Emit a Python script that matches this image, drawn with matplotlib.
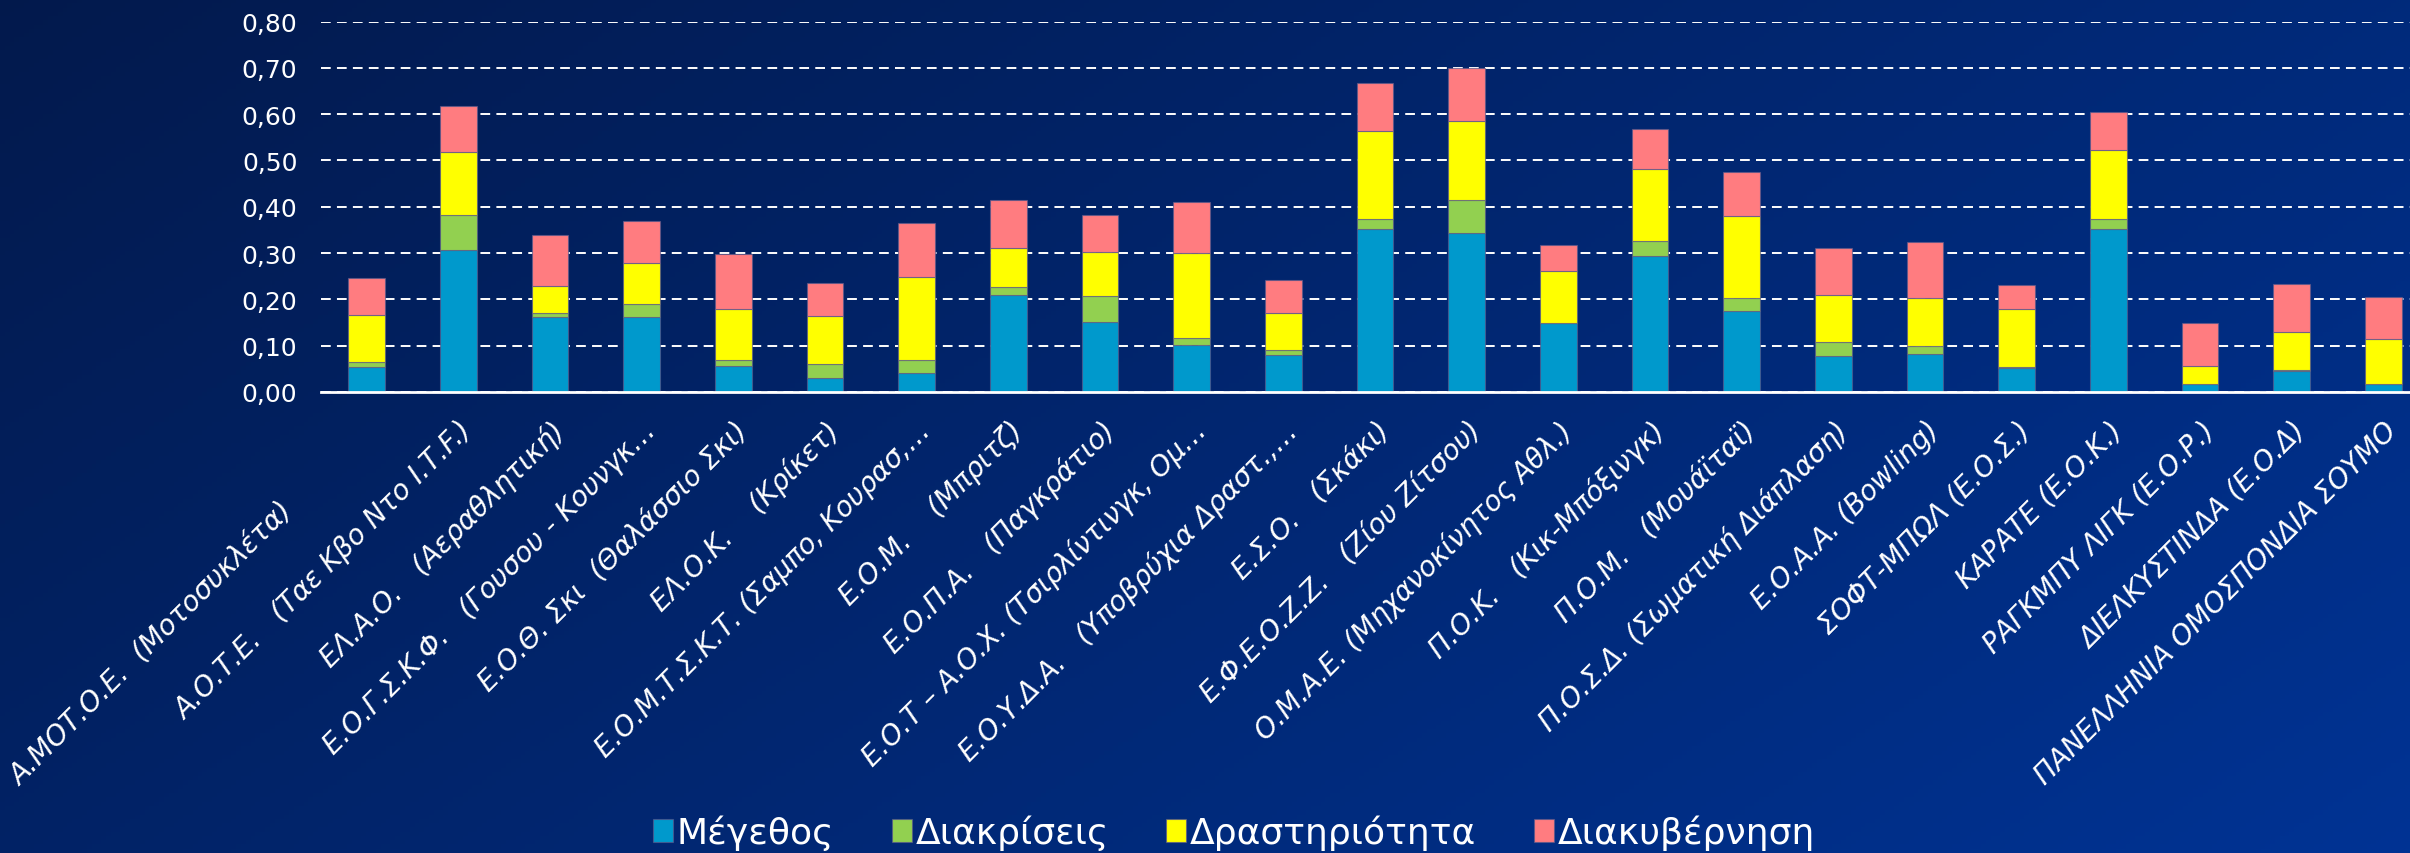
import numpy as np
import matplotlib
matplotlib.use('Agg')
import matplotlib.pyplot as plt
from matplotlib.transforms import ScaledTranslation

plt.rcParams['font.family'] = ['DejaVu Sans']

categories = [
    "Α.ΜΟΤ.Ο.Ε.  (Μοτοσυκλέτα)",
    "Α.Ο.Τ.Ε.   (Ταε Κβο Ντο Ι.Τ.F.)",
    "ΕΛ.Α.Ο.   (Αεραθλητική)",
    "Ε.Ο.Γ.Σ.Κ.Φ.   (Γουσου - Κουνγκ…",
    "Ε.Ο.Θ. Σκι  (Θαλάσσιο Σκι)",
    "ΕΛ.Ο.Κ.    (Κρίκετ)",
    "Ε.Ο.Μ.Τ.Σ.Κ.Τ. (Σαμπο, Κουρασ,…",
    "Ε.Ο.Μ.    (Μπριτζ)",
    "Ε.Ο.Π.Α.   (Παγκράτιο)",
    "Ε.Ο.Τ – Α.Ο.Χ. (Τσιρλίντινγκ, Ομ…",
    "Ε.Ο.Υ.Δ.Α.   (Υποβρύχια Δραστ.,…",
    "Ε.Σ.Ο.   (Σκάκι)",
    "Ε.Φ.Ε.Ο.Ζ.Ζ.   (Ζίου Ζίτσου)",
    "Ο.Μ.Α.Ε. (Μηχανοκίνητος Αθλ.)",
    "Π.Ο.Κ.   (Κικ-Μπόξινγκ)",
    "Π.Ο.Μ.   (Μουάϊταϊ)",
    "Π.Ο.Σ.Δ. (Σωματική Διάπλαση)",
    "Ε.Ο.Α.Α. (Bowling)",
    "ΣΟΦΤ-ΜΠΩΛ (Ε.Ο.Σ.)",
    "ΚΑΡΑΤΕ (Ε.Ο.Κ.)",
    "ΡΑΓΚΜΠΥ ΛΙΓΚ (Ε.Ο.Ρ.)",
    "ΔΙΕΛΚΥΣΤΙΝΔΑ (Ε.Ο.Δ)",
    "ΠΑΝΕΛΛΗΝΙΑ ΟΜΟΣΠΟΝΔΙΑ ΣΟΥΜΟ",
]

megethos = [0.053, 0.306, 0.163, 0.163, 0.056, 0.031, 0.040, 0.209, 0.151, 0.101,
            0.079, 0.353, 0.343, 0.148, 0.294, 0.175, 0.077, 0.081, 0.052, 0.351,
            0.017, 0.046, 0.017]
diakriseis = [0.011, 0.077, 0.007, 0.028, 0.014, 0.029, 0.030, 0.017, 0.057, 0.016,
              0.012, 0.020, 0.072, 0.001, 0.031, 0.027, 0.030, 0.018, 0.003, 0.023,
              0.001, 0.001, 0.001]
drastiriotita = [0.103, 0.135, 0.058, 0.087, 0.110, 0.104, 0.178, 0.084, 0.094, 0.183,
                 0.080, 0.190, 0.170, 0.112, 0.157, 0.178, 0.102, 0.104, 0.124, 0.148,
                 0.039, 0.083, 0.096]
diakyvernisi = [0.080, 0.100, 0.110, 0.092, 0.117, 0.071, 0.116, 0.105, 0.080, 0.110,
                0.071, 0.104, 0.115, 0.057, 0.086, 0.095, 0.101, 0.120, 0.053, 0.083,
                0.093, 0.104, 0.092]

series_names = ['Μέγεθος', 'Διακρίσεις', 'Δραστηριότητα', 'Διακυβέρνηση']
series_colors = ['#0099CC', '#92D050', '#FFFF00', '#FF7C80']
yticks = [0.0, 0.1, 0.2, 0.3, 0.4, 0.5, 0.6, 0.7, 0.8]
ytick_labels = ['0,00', '0,10', '0,20', '0,30', '0,40', '0,50', '0,60', '0,70', '0,80']

fig = plt.figure(figsize=(24.1, 8.54), dpi=100)

# background gradient
bg = fig.add_axes([0, 0, 1, 1], zorder=-10)
xx, yy = np.meshgrid(np.linspace(0, 1, 500), np.linspace(0, 1, 200))
t = np.clip(0.65 * xx + 0.35 * yy, 0, 1)
c0 = np.array([0.01, 0.10, 0.30])
c1 = np.array([0.00, 0.20, 0.58])
img = c0[None, None, :] * (1 - t[..., None]) + c1[None, None, :] * t[..., None]
bg.imshow(img, aspect='auto', extent=[0, 1, 0, 1], origin='upper')
bg.axis('off')

ax = fig.add_axes([321 / 2410, 1 - 393 / 854, (2429 - 321) / 2410, (393 - 22.5) / 854])
ax.patch.set_alpha(0)

x = np.arange(len(categories))
bottom = np.zeros(len(categories))
handles = []
for vals, name, col in zip([megethos, diakriseis, drastiriotita, diakyvernisi],
                           series_names, series_colors):
    b = ax.bar(x, vals, width=0.4, bottom=bottom, color=col, label=name,
               edgecolor=(0.35, 0.35, 0.55, 0.7), linewidth=0.8, zorder=3)
    handles.append(b)
    bottom += np.array(vals)

ax.set_xlim(-0.5, len(categories) - 0.5)
ax.set_ylim(0, 0.8)
ax.set_yticks(yticks)
ax.set_yticklabels(ytick_labels)
ax.set_axisbelow(True)
ax.yaxis.grid(True, color='white', linestyle=(0, (5, 3.2)), linewidth=1.4)
for s in ['left', 'right', 'top']:
    ax.spines[s].set_visible(False)
ax.spines['bottom'].set_color('white')
ax.spines['bottom'].set_linewidth(2)
ax.spines['bottom'].set_zorder(4)
ax.tick_params(axis='y', length=0, pad=17, labelsize=18, labelcolor='white')
ax.tick_params(axis='x', length=0, pad=17, labelsize=20, labelcolor='white')
ax.set_xticks(x)
ax.set_xticklabels(categories, rotation=45, ha='right', va='top',
                   rotation_mode='anchor', fontstyle='italic')

lab0 = ax.get_xticklabels()[0]
lab0.set_transform(lab0.get_transform() + ScaledTranslation(-0.88, -0.80, fig.dpi_scale_trans))

leg = fig.legend(handles, series_names, loc='center', bbox_to_anchor=(0.512, 0.024),
                 ncol=4, frameon=False, fontsize=26, labelcolor='white',
                 handlelength=0.55, handleheight=0.6, handletextpad=0.1,
                 columnspacing=1.6)

fig.savefig('out.png', dpi=100)
